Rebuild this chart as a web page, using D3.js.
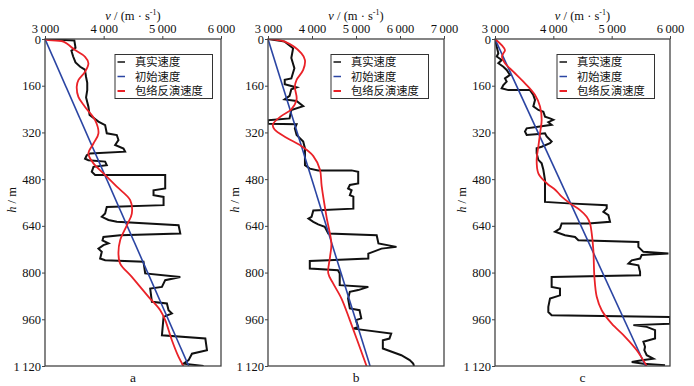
<!DOCTYPE html>
<html><head><meta charset="utf-8">
<script src="https://cdn.jsdelivr.net/npm/d3@7"></script>
<style>body{margin:0;background:#fff}svg{display:block}
.serif{font-family:"Liberation Serif","DejaVu Serif","Times New Roman",serif}
.cjk{font-family:"Noto Sans CJK SC","Noto Sans CJK JP",sans-serif}
</style>
</head><body><svg id="chart" width="694" height="386"></svg>
<script>
// ---------- data ----------
const depthTicks = [0,160,320,480,640,800,960,1120];
const panelLabels = ["a","b","c"];
const legendLabels = ["真实速度","初始速度","包络反演速度"];
const velDomainA = [3000,6000], velTicksA = [3000,4000,5000,6000];
const velDomainB = [3000,7000], velTicksB = [3000,4000,5000,6000,7000];
const velDomainC = [3000,6000], velTicksC = [3000,4000,5000,6000];
const depthDomain = [0,1120];

// [depth h (m), velocity v (m/s)]
const trueA = [[0,3020],[5,3500],[30,3520],[40,3450],[60,3480],[80,3520],[95,3600],[105,3680],[130,3700],[150,3720],[175,3720],[200,3700],[232,3740],[260,3760],[283,3910],[295,4025],[323,4053],[329,4224],[346,4252],[363,4196],[375,4338],[386,4366],[392,3769],[398,3712],[410,3683],[415,3740],[420,4025],[432,4053],[438,3826],[455,3797],[466,3854],[466,5049],[512,5049],[518,4850],[535,4850],[541,5021],[569,5021],[575,4053],[598,4025],[609,3968],[620,4082],[626,4224],[638,5277],[666,5306],[672,4281],[678,3996],[690,3980],[700,4082],[706,3996],[718,3911],[729,3968],[752,3940],[758,4025],[763,4679],[803,4708],[815,5306],[826,5049],[849,4993],[855,4793],[900,4822],[906,5078],[929,5106],[940,5163],[952,5021],[1015,4993],[1026,5733],[1066,5761],[1078,5505],[1100,5448],[1112,5363],[1120,5704]];
const initA = [[0,3000],[1120,5450]];
const invA = [[0,3000],[3,3028],[9,3313],[38,3512],[61,3683],[83,3740],[112,3683],[141,3569],[163,3541],[198,3569],[232,3680],[278,3854],[323,3911],[358,3826],[392,3740],[426,3826],[460,3996],[506,4224],[552,4452],[598,4480],[638,4395],[689,4281],[735,4252],[769,4281],[815,4480],[883,4765],[929,4964],[963,5049],[1032,5163],[1089,5277],[1120,5360]];

const trueB = [[0,3000],[9,3380],[32,3570],[65,3530],[100,3600],[135,3530],[140,3380],[155,3380],[166,3650],[172,3530],[195,3490],[207,3380],[212,3650],[230,3800],[243,3530],[272,3490],[278,3000],[290,3000],[292,3650],[306,3610],[329,3650],[351,3800],[375,3840],[432,3840],[444,3950],[450,4140],[450,4900],[455,5050],[495,5050],[500,4860],[512,4820],[518,4900],[535,4860],[540,4940],[581,4940],[587,4030],[609,3990],[615,3920],[626,4030],[635,4140],[643,4290],[666,4370],[672,5470],[700,5510],[712,5920],[718,5580],[735,5280],[752,5280],[758,4370],[760,3950],[786,3950],[792,4590],[803,4630],[843,4630],[849,5280],[860,5050],[866,4860],[889,4820],[923,4860],[929,5080],[957,5120],[963,5000],[986,5050],[992,4940],[1009,5800],[1026,5760],[1032,5610],[1060,5610],[1083,6030],[1100,6220],[1112,6300],[1120,6320]];
const initB = [[0,3000],[1120,5320]];
const invB = [[0,3000],[9,3380],[49,3760],[72,3840],[106,3800],[140,3650],[163,3610],[207,3650],[241,3530],[264,3300],[293,3110],[310,3150],[338,3420],[367,3760],[401,4030],[447,4180],[504,4220],[609,4330],[700,4440],[746,4410],[803,4370],[837,4480],[889,4670],[963,4860],[1120,5240]];

const trueC = [[0,3000],[27,3030],[49,3057],[60,3030],[72,3114],[83,3057],[95,3143],[106,3200],[123,3257],[135,3171],[146,3200],[158,3143],[169,3114],[175,3229],[175,3600],[192,3657],[209,3686],[231,3657],[243,3743],[249,3829],[266,3857],[272,3943],[277,4000],[285,3914],[294,3971],[300,3771],[306,3543],[317,3514],[329,3543],[326,3700],[323,3857],[334,3886],[351,3971],[357,3943],[369,3800],[374,3714],[391,3714],[414,3743],[426,3800],[448,3829],[483,3857],[558,3857],[563,4257],[569,4915],[580,4915],[592,4858],[603,4944],[626,4972],[632,4600],[632,4143],[649,4114],[660,4029],[672,4200],[678,4372],[689,4429],[695,5458],[712,5458],[729,5544],[735,5973],[740,5515],[752,5487],[758,5344],[769,5287],[775,5458],[798,5487],[809,5487],[815,3971],[849,3971],[855,4114],[878,4114],[889,3943],[917,3914],[935,3914],[946,3971],[952,6000],[975,6000],[980,5372],[986,5601],[997,5744],[1026,5744],[1037,5544],[1054,5572],[1066,5560],[1083,5601],[1095,5715],[1100,5515],[1106,5344],[1112,5544],[1117,5915]];
const initC = [[0,3000],[1120,5580]];
const invC = [[0,3000],[21,3114],[38,3171],[49,3143],[60,3120],[83,3171],[112,3314],[152,3514],[192,3686],[231,3772],[277,3800],[323,3772],[369,3743],[414,3714],[460,3743],[494,3886],[518,4040],[540,4143],[563,4286],[586,4458],[609,4572],[632,4629],[666,4658],[723,4686],[815,4704],[883,4744],[929,4829],[975,5001],[1020,5230],[1066,5430],[1120,5600]];

// ---------- drawing ----------
const svg = d3.select("#chart");
const loc = d3.formatLocale({decimal:".", thousands:"\u2009", grouping:[3], currency:["",""]});
const fmt = loc.format(",d");
const colors = {tru:"#111", init:"#2b45a3", inv:"#ea2228"};

const panels = [
  {x0:45,  x1:221, dom:velDomainA, ticks:velTicksA, tr:trueA, ini:initA, inv:invA, legX:115},
  {x0:268, x1:444, dom:velDomainB, ticks:velTicksB, tr:trueB, ini:initB, inv:invB, legX:331},
  {x0:495, x1:670, dom:velDomainC, ticks:velTicksC, tr:trueC, ini:initC, inv:invC, legX:557},
];
const plotTop = 39, plotBottom = 366;
const y = d3.scaleLinear().domain(depthDomain).range([plotTop,plotBottom]);

panels.forEach((p,i)=>{
  const x = d3.scaleLinear().domain(p.dom).range([p.x0,p.x1]);
  const g = svg.append("g");
  const clipId = "clip"+i;
  svg.append("clipPath").attr("id",clipId).append("rect")
    .attr("x",p.x0).attr("y",plotTop).attr("width",p.x1-p.x0).attr("height",plotBottom-plotTop);

  const line = d3.line().x(d=>x(d[1])).y(d=>y(d[0]));
  const smooth = d3.line().x(d=>x(d[1])).y(d=>y(d[0])).curve(d3.curveCatmullRom.alpha(0.5));
  const lg = g.append("g").attr("clip-path",`url(#${clipId})`);
  lg.append("path").attr("d",line(p.tr)).attr("fill","none").attr("stroke",colors.tru).attr("stroke-width",2).attr("stroke-linejoin","miter");
  lg.append("path").attr("d",line(p.ini)).attr("fill","none").attr("stroke",colors.init).attr("stroke-width",1.6);
  lg.append("path").attr("d",smooth(p.inv)).attr("fill","none").attr("stroke",colors.inv).attr("stroke-width",1.8);

  // frame
  g.append("rect").attr("x",p.x0).attr("y",plotTop).attr("width",p.x1-p.x0).attr("height",plotBottom-plotTop)
    .attr("fill","none").attr("stroke","#444").attr("stroke-width",1.3);

  // top axis
  const ax = g.append("g").attr("transform",`translate(0,${plotTop})`)
    .call(d3.axisTop(x).tickValues(p.ticks).tickFormat(fmt).tickSize(3).tickPadding(3));
  ax.attr("font-family",null).attr("font-size",null);
  ax.select(".domain").remove();
  ax.selectAll("line").attr("stroke","#444");
  ax.selectAll("text").attr("class","serif").style("font-size","12.5px").attr("fill","#111");

  // left axis
  const ay = g.append("g").attr("transform",`translate(${p.x0},0)`)
    .call(d3.axisLeft(y).tickValues(depthTicks).tickFormat(fmt).tickSize(3).tickPadding(1));
  ay.attr("font-family",null).attr("font-size",null);
  ay.select(".domain").remove();
  ay.selectAll("line").attr("stroke","#444");
  ay.selectAll("text").attr("class","serif").style("font-size","12.5px").attr("fill","#111");

  // axis titles
  const cx = (p.x0+p.x1)/2;
  const tt = g.append("text").attr("class","serif").attr("x",cx).attr("y",20).attr("text-anchor","middle")
    .style("font-size","12.5px").attr("fill","#111");
  tt.append("tspan").attr("font-style","italic").text("v");
  tt.append("tspan").text(" / (m · s");
  tt.append("tspan").style("font-size","8px").attr("dy",-5).text("-1");
  tt.append("tspan").attr("dy",5).text(")");

  const yt = g.append("text").attr("class","serif").attr("transform",`translate(${p.x0-29},200) rotate(-90)`)
    .attr("text-anchor","middle").style("font-size","12.5px").attr("fill","#111");
  yt.append("tspan").attr("font-style","italic").text("h");
  yt.append("tspan").text(" / m");

  g.append("text").attr("class","serif").attr("x",cx).attr("y",382).attr("text-anchor","middle")
    .style("font-size","13.5px").attr("fill","#111").text(panelLabels[i]);

  // legend
  const lx = p.legX, ly = 54.5;
  g.append("rect").attr("x",lx).attr("y",ly).attr("width",97.5).attr("height",44)
    .attr("fill","#fff").attr("stroke","#333").attr("stroke-width",1);
  const cols = [colors.tru, colors.init, colors.inv];
  const rowsY = [62,76.5,91];
  legendLabels.forEach((t,k)=>{
    g.append("line").attr("x1",lx+2.5).attr("x2",lx+10).attr("y1",rowsY[k]).attr("y2",rowsY[k])
      .attr("stroke",cols[k]).attr("stroke-width",k===2?2:1.5);
    g.append("text").attr("class","cjk").attr("x",lx+20).attr("y",rowsY[k]).attr("dy","0.36em")
      .style("font-size","11.3px").attr("fill","#111").text(t);
  });
});
</script></body></html>
